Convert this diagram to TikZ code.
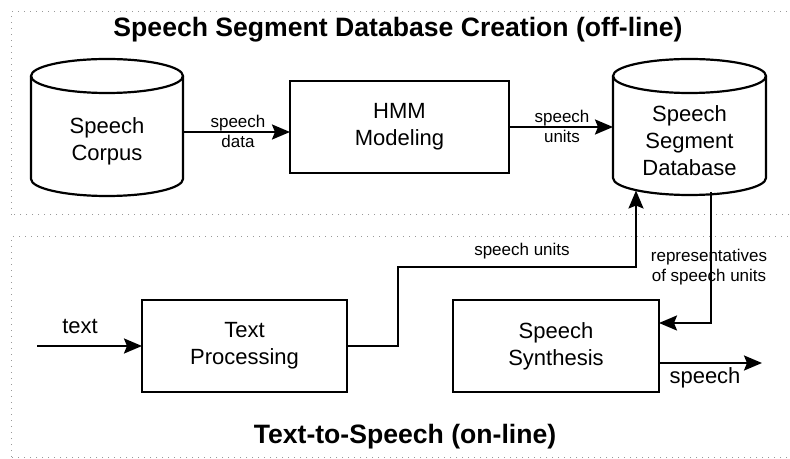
\documentclass[tikz,border=0pt]{standalone}
\usepackage{fontspec}
\setmainfont{Liberation Sans}
\usetikzlibrary{arrows.meta,calc}
\begin{document}
\begin{tikzpicture}[x=1pt,y=1pt,
  every node/.style={inner sep=0pt,outer sep=0pt},
  frame/.style={draw=gray!80,line width=1pt,dash pattern=on 1pt off 5pt},
  proc/.style={draw,line width=2.2pt,minimum width=#1,minimum height=92pt,align=center,font=\fontsize{22}{27}\selectfont},
  cyl/.style={line width=2.2pt},
  cyltext/.style={align=center,font=\fontsize{22}{27}\selectfont},
  arr/.style={line width=2.2pt,-{Stealth[length=18pt,width=15pt,inset=3pt]}},
  small/.style={align=center,font=\fontsize{17}{20}\selectfont},
  big/.style={font=\fontsize{22}{26}\selectfont},
  title/.style={font=\bfseries\fontsize{26.6}{30}\selectfont}
]
\useasboundingbox (0,0) rectangle (790,458);
% frames
\draw[frame] (11,243) rectangle (800,446);
\draw[frame] (11,1) rectangle (800,221);
\node[title] (t1) at (398,428) {Speech Segment Database Creation (off-line)};
\node[title] (t2) at (405,21) {Text-to-Speech (on-line)};
% Speech Corpus cylinder
\draw[cyl,fill=white] (31,382) -- (31,279) arc[start angle=180,end angle=360,x radius=76,y radius=17] -- (183,382);
\draw[cyl] (107,382) ellipse[x radius=76,y radius=17];
\node[cyltext] (corpus) at (107,317) {Speech\\Corpus};
\coordinate (corpusE) at (183,326);
% HMM
\node[proc=219pt] (hmm) at (399.5,331) {HMM\\Modeling};
% DB cylinder
\draw[cyl,fill=white] (613,382) -- (613,280) arc[start angle=180,end angle=360,x radius=76.5,y radius=17] -- (766,382);
\draw[cyl] (689.5,382) ellipse[x radius=76.5,y radius=17];
\node[cyltext] (db) at (689.5,317) {Speech\\Segment\\Database};
\coordinate (dbW) at (613,331);
\coordinate (dbB1) at (636,267.5);
\coordinate (dbB2) at (711,266);
% lower boxes
\node[proc=205pt] (tp) at (244.5,112) {Text\\Processing};
\node[proc=206pt] (ss) at (556,112) {Speech\\Synthesis};
\coordinate (textin) at (37,112);
\coordinate (out) at (762,95);
% connectors
\draw[arr] (corpusE) -- (hmm.west |- corpusE);
\draw[arr] (hmm.east) -- (dbW);
\draw[arr] (textin) -- (tp.west);
\draw[arr] (tp.east) -- (398,112) -- (398,191) -- (636,191) -- (dbB1);
\draw[arr] (dbB2) -- (711,135) -- (ss.east |- 0,135);
\draw[arr] (ss.east |- out) -- (out);
% labels
\node[small] (l1) at (238,327) {speech\\data};
\node[small] (l2) at (562,332) {speech\\units};
\node[small] (l3) at (522,207) {speech units};
\node[small] (l4) at (709,191) {representatives\\of speech units};
\node[big] (l5) at (80,132) {text};
\node[big] (l6) at (705,80) {speech};
\end{tikzpicture}
\end{document}
